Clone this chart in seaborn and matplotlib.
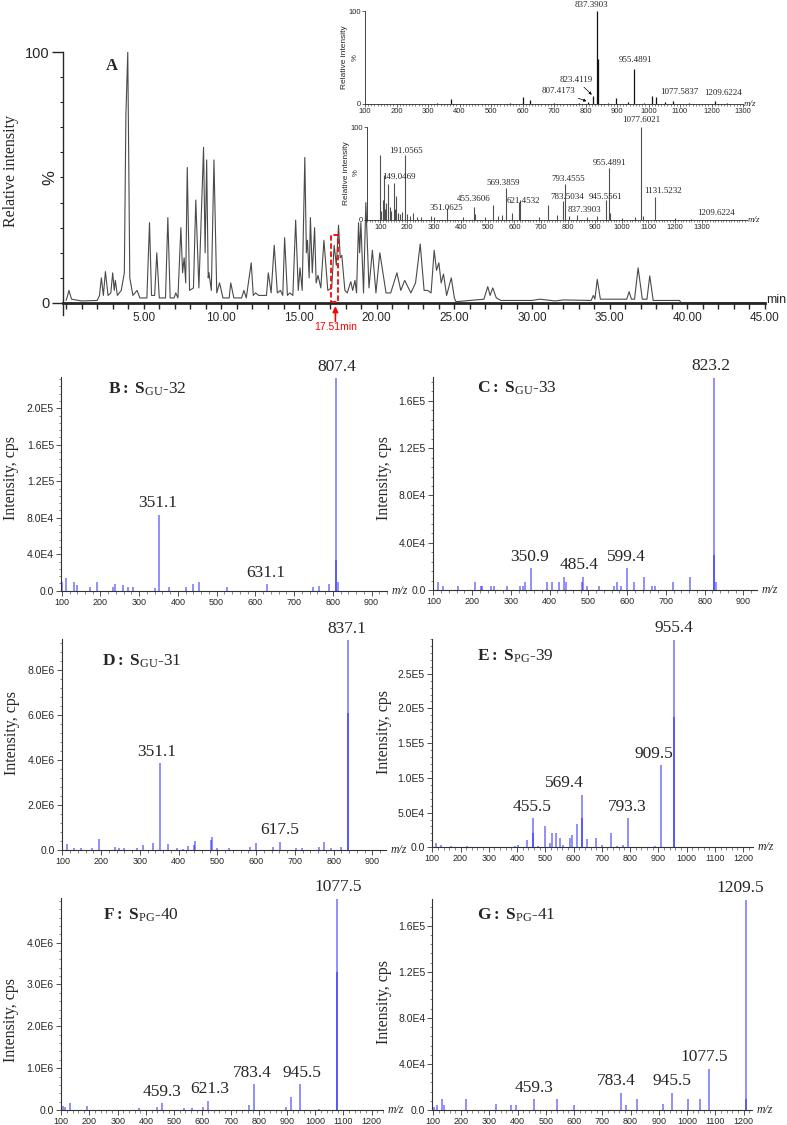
import numpy as np
import pandas as pd
import matplotlib
matplotlib.use('Agg')
import matplotlib.pyplot as plt
import seaborn as sns
from matplotlib.ticker import MultipleLocator, AutoMinorLocator
from matplotlib.patches import Rectangle

# ---- panel A: total ion chromatogram (retention time, relative intensity) ----
rt_min = [0.0, 0.1, 0.18, 0.35, 1.0, 2.0, 2.15, 2.27, 2.4, 2.53,
          2.7, 2.88, 3.0, 3.1, 3.17, 3.3, 3.55, 3.75, 3.85, 3.97,
          4.1, 4.3, 4.57, 4.75, 5.2, 5.37, 5.5, 5.7, 5.84, 6.0,
          6.4, 6.55, 6.7, 6.95, 7.06, 7.2, 7.39, 7.5, 7.6, 7.7,
          7.8, 7.95, 8.2, 8.35, 8.55, 8.85, 8.95, 9.05, 9.15, 9.2,
          9.35, 9.52, 9.7, 9.88, 10.1, 10.5, 10.6, 10.8, 11.3, 11.45,
          11.6, 11.92, 12.05, 12.2, 12.4, 12.9, 13.02, 13.2, 13.4, 13.6,
          13.8, 13.95, 14.07, 14.25, 14.4, 14.6, 14.78, 14.95, 15.06, 15.2,
          15.37, 15.47, 15.54, 15.65, 15.73, 15.85, 16.0, 16.1, 16.22, 16.4,
          16.6, 16.85, 17.1, 17.26, 17.4, 17.54, 17.65, 17.75, 17.95, 18.1,
          18.33, 18.45, 18.6, 18.7, 18.83, 18.9, 18.98, 19.15, 19.3, 19.5,
          19.72, 19.95, 20.2, 20.3, 20.6, 20.9, 21.3, 21.55, 21.8, 22.2,
          22.5, 22.8, 23.05, 23.28, 23.5, 23.7, 23.85, 24.0, 24.15, 24.3,
          24.5, 24.8, 25.0, 25.1, 26.0, 26.9, 27.15, 27.3, 27.47, 27.7,
          28.0, 30.0, 30.5, 31.5, 32.0, 33.8, 33.95, 34.05, 34.2, 34.4,
          35.0, 36.1, 36.25, 36.4, 36.6, 36.83, 37.1, 37.4, 37.58, 37.8,
          39.5, 39.6, 45.0]
rel_int = [1, 3, 5, 1.5, 0.8, 1, 3, 10, 3, 12.5,
           3, 4, 12, 5, 9, 3, 5, 12, 75, 100,
           10, 3, 5, 2, 2, 32, 3, 3, 20, 2,
           2, 34, 2, 2, 4, 2, 30, 12, 18, 8,
           54, 5, 6, 41, 6, 62, 20, 57, 10, 12,
           5, 57, 4, 8, 2, 2, 8, 2, 2, 5,
           2, 16, 3, 4, 3, 3, 12, 4, 23, 4,
           5, 3, 26, 3, 4, 3, 33, 5, 14, 5,
           58, 20, 25, 10, 34, 12, 30, 8, 11, 6,
           25, 5, 6, 23, 15, 31, 18, 19, 5, 4,
           8.5, 5, 9, 4, 32, 20, 32, 4, 40, 6,
           21, 4, 20, 16, 4, 4, 12, 5, 9, 4,
           8, 23.5, 5, 5, 4, 21, 13, 16, 8, 11.5,
           3, 10, 2, 0.5, 1.0, 1.5, 6.5, 3, 6, 2,
           1, 1, 1.5, 0.8, 1.2, 1, 3, 1.5, 9.4, 1.5,
           1.5, 1.5, 4.5, 1.5, 1.5, 14, 1.5, 1.5, 10.8, 1,
           1, 0, 0]

# ---- inset spectra in panel A ----
i1_mz = [330, 373, 560, 601, 624, 700, 780, 807.4, 823.4, 837.4, 838.4, 870,
         897, 934, 955.5, 985, 1011, 1024, 1052, 1077.6, 1130, 1209.6, 1250]
i1_rel = [1, 5.4, 1, 7, 4.5, 1, 1.5, 2.5, 9, 100, 48, 1.5,
          6, 2.5, 38, 1.5, 9, 7.5, 2.5, 3, 1, 3.5, 1]
i1_lab = ['837.3903', '955.4891', '1077.5837', '1209.6224']
i1_lab_mz = [818, 958, 1098, 1237]
i1_lab_rel = [106, 47, 13, 11.5]

i2_mz = [100, 104, 108, 113, 118, 122, 129, 134, 140, 149, 154, 160, 167, 175,
         182, 191, 198, 210, 222, 235, 250, 290, 300, 349, 410, 451, 453, 490,
         520, 540, 552, 567, 590, 616, 621, 690, 727, 760, 781, 789, 805, 832,
         870, 910, 943, 951.5, 955, 1000, 1050, 1072, 1080, 1126, 1200, 1260]
i2_rel = [70, 10, 22, 48, 12, 18, 39, 14, 10, 40, 12, 26, 8, 6,
          9, 70, 6, 4, 8, 3, 3, 4, 3, 12.5, 3, 14, 6, 3,
          16, 4, 5, 34, 8, 19, 22, 3, 16, 5, 20, 39, 4, 5,
          3, 4, 21.5, 55.6, 8, 2, 3, 100, 4, 25, 2, 1.5]
i2_lab = ['1077.6021', '191.0565', '149.0469', '955.4891', '569.3859', '793.4555',
          '455.3606', '351.0625', '621.4532', '783.5034', '945.5561', '837.3903',
          '1131.5232', '1209.6224']
i2_lab_mz = [1075, 196, 168, 955, 560, 799, 448, 346, 634, 797, 940, 861, 1153, 1354]
i2_lab_rel = [108, 74.5, 46.6, 61, 39.4, 44, 22.6, 13.3, 20.8, 25, 25, 10.8, 31, 7.2]

# ---- panels B-G: MS/MS spectra ----
b_mz = [100, 112, 131, 140, 174, 192, 233, 237, 258, 271, 284, 342, 351,
        377, 422, 439, 455, 526, 631, 748, 764, 791, 808, 808, 814]
b_int = [9.8e3, 1.35e4, 9.8e3, 6e3, 3.6e3, 9.8e3, 4.4e3, 7e3, 6e3, 3.6e3, 3.6e3, 3e3, 8.35e4,
         3.6e3, 3.6e3, 7e3, 9.8e3, 3.6e3, 7e3, 3.6e3, 5.5e3, 7e3, 2.33e5, 3.4e4, 9.8e3]
b_lab = ['351.1', '631.1', '807.4']
b_lab_mz = [349, 627, 810]
b_lab_int = [8.35e4, 7e3, 2.33e5]

c_mz = [111, 124, 164, 206, 222, 226, 249, 255, 291, 323, 330, 335, 351, 392, 407, 423, 437, 441,
        483, 487, 495, 527, 567, 573, 583, 599, 618, 643, 663, 671, 717, 763, 823, 823, 829]
c_int = [7e3, 3.4e3, 3.4e3, 7e3, 3.4e3, 3.4e3, 3.4e3, 3.4e3, 3.4e3, 3.4e3, 3.4e3, 7e3, 1.83e4,
         7e3, 7e3, 7e3, 1.13e4, 7e3, 7e3, 1.13e4, 3.4e3, 3.4e3, 3.4e3, 7e3, 3.4e3, 1.83e4,
         7e3, 1.07e4, 3.4e3, 3.4e3, 7e3, 1.07e4, 1.795e5, 2.96e4, 7e3]
c_lab = ['350.9', '485.4', '599.4', '823.2']
c_lab_mz = [347, 476, 597, 817]
c_lab_int = [1.83e4, 1.13e4, 1.83e4, 1.795e5]

d_mz = [100, 112, 131, 149, 175, 194, 235, 247, 260, 293, 307, 334, 351, 372, 396, 411, 425, 439,
        441, 484, 486, 499, 529, 583, 600, 643, 662, 703, 718, 761, 776, 793, 820, 837, 837]
d_int = [1e5, 2.5e5, 7e4, 7e4, 7e4, 4.7e5, 1.5e5, 1e5, 7e4, 7e4, 2.2e5, 3e5, 3.84e6, 2.5e5,
         1e5, 5e4, 1.8e5, 2.2e5, 4.1e5, 4.4e5, 5.9e5, 7e4, 7e4, 1.5e5, 3e5, 1.5e5, 3.7e5,
         7e4, 7e4, 1.5e5, 3.7e5, 7e4, 1.5e5, 9.32e6, 6.1e6]
d_lab = ['351.1', '617.5', '837.1']
d_lab_mz = [344, 660, 834]
d_lab_int = [3.84e6, 3.7e5, 9.32e6]

e_mz = [113, 131, 166, 222, 393, 405, 434, 455, 455, 475, 499, 516, 525, 538, 552, 564,
        587, 596, 613, 631, 631, 646, 681, 702, 732, 752, 775, 794, 887, 911, 955, 955]
e_int = [6.7e3, 3.4e3, 2e3, 2e3, 2e3, 3e3, 1.05e4, 4.2e4, 2e4, 2e3, 3.1e4, 5.8e3, 2e4, 2e4,
         1.3e4, 3e3, 1.4e4, 1.8e4, 3.4e4, 7.6e4, 4.2e4, 1.15e4, 1.4e4, 3e3, 2.1e4, 2e3,
         3e3, 4.2e4, 2e3, 1.18e5, 2.99e5, 1.87e5]
e_lab = ['455.5', '569.4', '793.3', '909.5', '955.4']
e_lab_mz = [452, 566, 789, 883, 954]
e_lab_int = [4.2e4, 7.6e4, 4.2e4, 1.18e5, 2.99e5]

f_mz = [107, 113, 130, 190, 374, 439, 458, 536, 564, 601, 621, 764, 782, 895, 914, 945,
        1014, 1077, 1077]
f_int = [1.04e5, 8e4, 1.6e5, 1.04e5, 4e4, 8e4, 1.6e5, 4e4, 4e4, 8e4, 2.2e5, 1.2e5, 6.1e5,
         8e4, 3e5, 6.1e5, 2.4e4, 5.05e6, 3.3e6]
f_lab = ['459.3', '621.3', '783.4', '945.5', '1077.5']
f_lab_mz = [458, 627, 776, 952, 1080]
f_lab_int = [1.6e5, 2.2e5, 6.1e5, 6.1e5, 5.05e6]

g_mz = [103, 114, 132, 141, 219, 322, 376, 394, 459, 538, 600, 765, 784, 823, 915, 946,
        1004, 1046, 1078, 1209, 1209]
g_int = [2.3e3, 4.3e3, 9.5e3, 4.3e3, 9.5e3, 4.9e3, 4.3e3, 4.3e3, 9.5e3, 9.5e3, 4.3e3, 1.5e4,
         4.3e3, 9.5e3, 4.9e3, 1.5e4, 9.5e3, 9.5e3, 3.6e4, 1.825e5, 9.5e3]
g_lab = ['459.3', '783.4', '945.5', '1077.5', '1209.5']
g_lab_mz = [457, 751, 945, 1060, 1189]
g_lab_int = [9.5e3, 1.5e4, 1.5e4, 3.6e4, 1.825e5]

# ---------------------------------------------------------------
sns.set_style('ticks')
plt.rcParams['font.family'] = ['Liberation Sans', 'DejaVu Sans']
plt.rcParams['mathtext.fontset'] = 'custom'
plt.rcParams['mathtext.rm'] = 'Liberation Serif'
plt.rcParams['mathtext.bf'] = 'Liberation Serif:bold'
plt.rcParams['mathtext.it'] = 'Liberation Serif:italic'
SERIF = ['Liberation Serif', 'DejaVu Serif']

W, H = 787, 1125
fig = plt.figure(figsize=(W / 100, H / 100), dpi=100)


def px_axes(l, t, r, b):
    return fig.add_axes([l / W, 1 - b / H, (r - l) / W, (b - t) / H])


def px_text(x, y, s, **kw):
    fig.text(x / W, 1 - y / H, s, **kw)


# ---- A: chromatogram ----
axA = px_axes(63, 52, 765, 315)
chrom = pd.DataFrame({'rt': rt_min, 'rel': rel_int})
sns.lineplot(data=chrom, x='rt', y='rel', ax=axA, color='#4a4a4a', lw=0.8,
             sort=False, estimator=None)
axA.set_xlim(-0.2, 45)
axA.set_ylim(-4.8, 100)
axA.set_xlabel('')
axA.set_ylabel('')
axA.set_facecolor('none')
sns.despine(ax=axA)
axA.spines['bottom'].set_position(('data', 0))
axA.spines['bottom'].set_linewidth(2)
axA.spines['left'].set_linewidth(1)
xt = np.arange(5, 46, 5)
axA.set_xticks(xt)
axA.set_xticklabels([f'{v:.2f}' for v in xt])
axA.xaxis.set_minor_locator(MultipleLocator(1))
axA.set_yticks([0, 100])
axA.set_yticklabels(['0', '100'])
axA.yaxis.set_minor_locator(MultipleLocator(10))
axA.tick_params(axis='x', which='both', direction='out', length=4.5, width=1,
                labelsize=8.5, pad=2)
axA.tick_params(axis='y', which='major', length=8, width=1, labelsize=10.5, pad=1.5)
axA.tick_params(axis='y', which='minor', length=2.5, width=0.8)

axA.add_patch(Rectangle((17.08, 0.4), 0.42, 26.5, fill=False, ec='red',
                        ls=(0, (3, 1.5)), lw=1.3, zorder=5))
axA.annotate('', xy=(17.34, -0.2), xytext=(17.34, -8.5), annotation_clip=False,
             arrowprops=dict(arrowstyle='-|>', color='red', lw=1.2, mutation_scale=8))
px_text(336, 327, '17.51min', color='red', fontsize=7.5, ha='center', va='center')
px_text(766, 300, 'min', fontsize=9, ha='left', va='center')
px_text(112, 66, 'A', fontsize=12, fontweight='bold', family=SERIF, ha='center', va='center')
px_text(11, 171, 'Relative intensity', fontsize=11.5, family=SERIF, rotation=90,
        ha='center', va='center')
px_text(50, 178, '%', fontsize=12, rotation=90, ha='center', va='center')


def ms_inset(ax, mz, rel, xlim, color, lw):
    ax.vlines(mz, 0, rel, colors=color, lw=lw)
    ax.set_xlim(*xlim)
    ax.set_ylim(0, 100)
    ax.set_facecolor('none')
    sns.despine(ax=ax)
    for sp in ax.spines.values():
        sp.set_linewidth(0.6)
    ax.set_xticks(np.arange(100, 1301, 100))
    ax.xaxis.set_minor_locator(MultipleLocator(10))
    ax.set_yticks([0, 100])
    ax.tick_params(which='major', length=2.2, width=0.5, labelsize=5.5, pad=1)
    ax.tick_params(which='minor', length=1.2, width=0.4)
    ax.text(1.003, 0, 'm/z', transform=ax.transAxes, ha='left', va='center',
            fontsize=6.5, style='italic', family=SERIF)


ax1 = px_axes(365, 11, 743, 104)
ms_inset(ax1, i1_mz, i1_rel, (100, 1298), '#111111', 0.9)
for s, m, r in zip(i1_lab, i1_lab_mz, i1_lab_rel):
    ax1.text(m, r, s, ha='center', va='center', fontsize=6.5, family=SERIF, clip_on=False)
ax1.annotate('823.4119', xy=(820, 10), xytext=(771, 26), ha='center', va='center',
             fontsize=6.5, family=SERIF,
             arrowprops=dict(arrowstyle='-|>', lw=0.5, color='black', mutation_scale=4,
                             shrinkA=8, shrinkB=0))
ax1.annotate('807.4173', xy=(803, 3), xytext=(713, 14), ha='center', va='center',
             fontsize=6.5, family=SERIF,
             arrowprops=dict(arrowstyle='-|>', lw=0.5, color='black', mutation_scale=4,
                             shrinkA=14, shrinkB=0))
px_text(344, 57, 'Relative intensity', fontsize=6, rotation=90, ha='center', va='center')
px_text(355, 58, '%', fontsize=5.5, rotation=90, ha='center', va='center')

ax2 = px_axes(367, 127, 747, 220)
ms_inset(ax2, i2_mz, i2_rel, (50, 1468), '#505050', 0.8)
for s, m, r in zip(i2_lab, i2_lab_mz, i2_lab_rel):
    ax2.text(m, r, s, ha='center', va='center', fontsize=6.5, family=SERIF, clip_on=False)
px_text(346, 173, 'Relative intensity', fontsize=6, rotation=90, ha='center', va='center')
px_text(356, 173, '%', fontsize=5.5, rotation=90, ha='center', va='center')


# ---- B-G ----
def sci(v):
    if v == 0:
        return '0.0'
    e = int(np.floor(np.log10(v) + 1e-9))
    return f'{v / 10 ** e:.1f}E{e}'


def ms_panel(box, mz, inten, lab, lab_mz, lab_int, xmax, yticks, ytop,
             title, title_xy, ylab_xy):
    ax = px_axes(*box)
    ax.vlines(mz, 0, inten, colors='#1a1aff', lw=1.1, alpha=0.62)
    ax.set_xlim(98, xmax)
    ax.set_ylim(0, ytop)
    sns.despine(ax=ax)
    for sp in ax.spines.values():
        sp.set_linewidth(0.8)
        sp.set_color('#333333')
    ax.set_yticks(yticks)
    ax.set_yticklabels([sci(v) for v in yticks])
    ax.yaxis.set_minor_locator(AutoMinorLocator(5))
    ax.set_xticks(np.arange(100, xmax, 100))
    ax.xaxis.set_minor_locator(AutoMinorLocator(5))
    ax.tick_params(which='major', length=3.5, width=0.6, color='#333333', pad=1.5)
    ax.tick_params(which='minor', length=1.8, width=0.5, color='#555555')
    ax.tick_params(axis='y', labelsize=7.5)
    ax.tick_params(axis='x', labelsize=6.5)
    for s, m, v in zip(lab, lab_mz, lab_int):
        ax.annotate(s, (m, v), xytext=(0, 2.5), textcoords='offset points', ha='center',
                    va='bottom', fontsize=12.5, family=SERIF, annotation_clip=False)
    ax.text(1.015, 0, 'm/z', transform=ax.transAxes, ha='left', va='center',
            fontsize=8.5, style='italic', family=SERIF)
    px_text(title_xy[0], title_xy[1], title, fontsize=12.5, family=SERIF,
            ha='left', va='center')
    px_text(ylab_xy[0], ylab_xy[1], 'Intensity, cps', fontsize=11.5, family=SERIF,
            rotation=90, ha='center', va='center')
    return ax


ms_panel((61, 377.3, 387, 590.7), b_mz, b_int, b_lab, b_lab_mz, b_lab_int, 940,
         [0, 4e4, 8e4, 1.2e5, 1.6e5, 2.0e5], 2.34e5,
         r'$\mathbf{B{:}\ S}_{\mathrm{GU}}$-32', (108, 389), (11, 478))
ms_panel((432.7, 377.3, 757, 590), c_mz, c_int, c_lab, c_lab_mz, c_lab_int, 935,
         [0, 4e4, 8e4, 1.2e5, 1.6e5], 1.8e5,
         r'$\mathbf{C{:}\ S}_{\mathrm{GU}}$-33', (477, 388), (384, 478))
ms_panel((61.7, 639.3, 386, 850), d_mz, d_int, d_lab, d_lab_mz, d_lab_int, 935,
         [0, 2e6, 4e6, 6e6, 8e6], 9.35e6,
         r'$\mathbf{D{:}\ S}_{\mathrm{GU}}$-31', (102, 661), (12, 733))
ms_panel((431.7, 639, 753, 847.3), e_mz, e_int, e_lab, e_lab_mz, e_lab_int, 1235,
         [0, 5e4, 1e5, 1.5e5, 2e5, 2.5e5], 3.0e5,
         r'$\mathbf{E{:}\ S}_{\mathrm{PG}}$-39', (477, 656), (384, 732))
ms_panel((60.7, 898.3, 383, 1110), f_mz, f_int, f_lab, f_lab_mz, f_lab_int, 1240,
         [0, 1e6, 2e6, 3e6, 4e6], 5.06e6,
         r'$\mathbf{F{:}\ S}_{\mathrm{PG}}$-40', (103, 915), (11, 1020))
ms_panel((432.3, 899.3, 752, 1110), g_mz, g_int, g_lab, g_lab_mz, g_lab_int, 1230,
         [0, 4e4, 8e4, 1.2e5, 1.6e5], 1.83e5,
         r'$\mathbf{G{:}\ S}_{\mathrm{PG}}$-41', (477, 915), (384, 1002))

fig.savefig('out.png', dpi=100)
